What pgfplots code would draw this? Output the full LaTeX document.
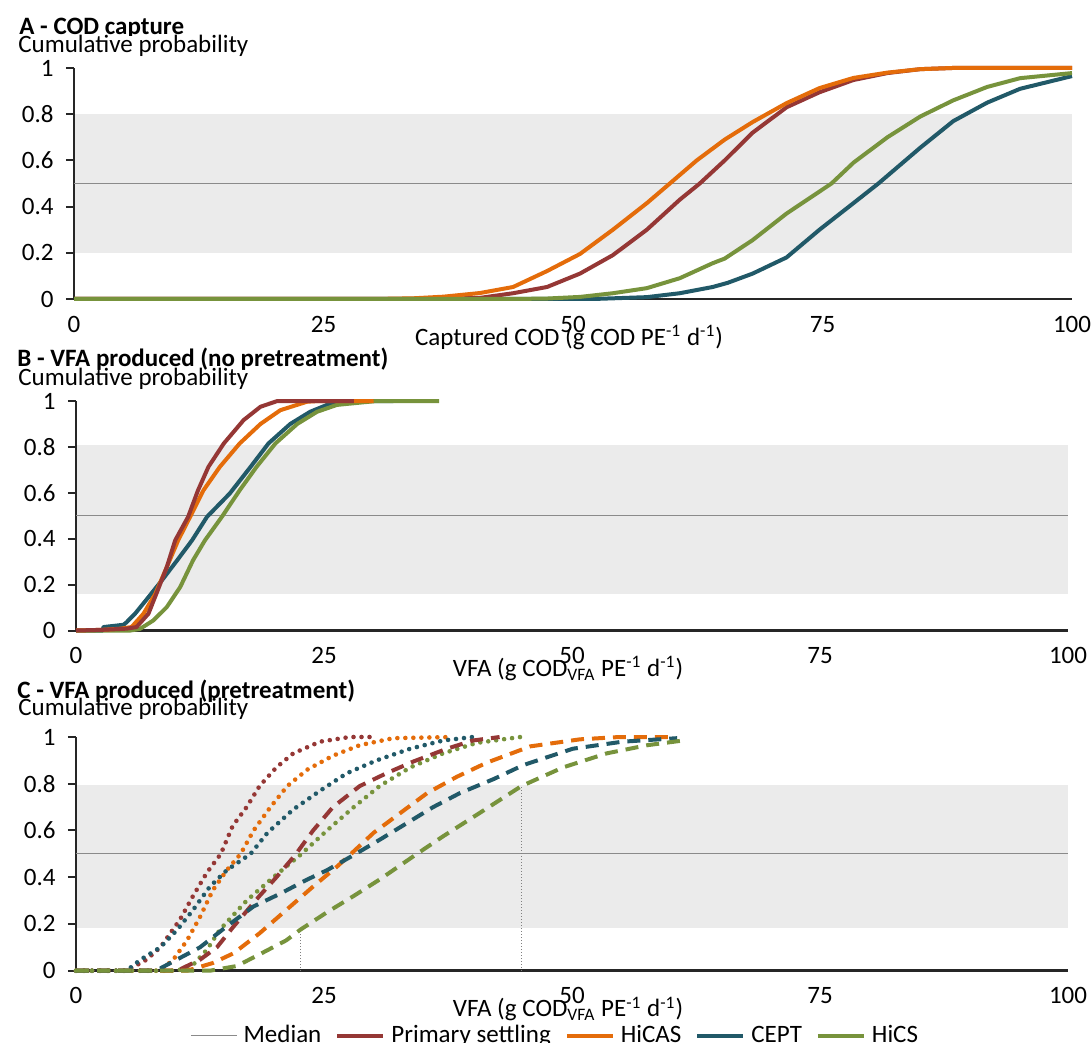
\documentclass[border=0pt]{standalone}
\usepackage{fontspec}
\setmainfont{Carlito}
\usepackage{pgfplots}
\pgfplotsset{compat=1.18}
\definecolor{cPS}{HTML}{953735}
\definecolor{cHA}{HTML}{E46C0A}
\definecolor{cCE}{HTML}{215968}
\definecolor{cHS}{HTML}{77933C}
\definecolor{band}{HTML}{EBEBEB}
\definecolor{axc}{HTML}{262626}
\definecolor{med}{HTML}{8A8A8A}
\newcommand{\fs}{\fontsize{12.5}{15}\selectfont}
\pgfplotsset{
  panel/.style={
    set layers,
    scale only axis, anchor=south west,
    xmin=0, xmax=100, ymin=0, ymax=1,
    axis x line*=bottom, axis y line*=left,
    axis line style={line width=1.3pt, draw=axc, -},
    xtick={0,25,50,75,100}, xticklabels={0,25,50,75,100},
    ytick={0,0.2,0.4,0.6,0.8,1}, yticklabels={0,0.2,0.4,0.6,0.8,1},
    x tick style={draw=none},
    y tick style={line width=1pt, draw=axc},
    tick align=outside, major tick length=4pt,
    clip=false,
    font=\fs,
    xticklabel style={anchor=base, inner sep=0pt, yshift=-12.5pt},
    yticklabel style={anchor=east, inner sep=0pt, xshift=-6pt},
    xlabel style={at={(axis description cs:0.5,0)}, anchor=base, yshift=-23pt, xshift=-2pt, inner sep=0pt},
  },
  bandst/.style={draw=none, fill=band, on layer=axis background, forget plot},
  medst/.style={draw=med, line width=0.5pt, forget plot},
  cv/.style={line width=2pt, line join=round, forget plot},
  dt/.style={cv, line width=2.3pt, line cap=round, dash pattern=on 0pt off 4pt},
  ds/.style={cv, dash pattern=on 6.5pt off 4pt},
}
\begin{document}
\begin{tikzpicture}
% ---------------- Panel A
\begin{axis}[panel, at={(37pt,-149.5pt)}, width=499pt, height=115.5pt,
  xlabel={Captured COD (g COD PE\textsuperscript{-1} d\textsuperscript{-1})}]
\addplot[bandst] coordinates {(0,0.2) (100,0.2) (100,0.8) (0,0.8)} -- cycle;
\addplot[medst] coordinates {(0,0.5) (100,0.5)};
\addplot[cv, cCE] coordinates {(0,0) (52,0) (57.4,0.008) (60.7,0.025) (64,0.052) (65.5,0.07) (68,0.11) (71.4,0.18) (74.7,0.30) (78.1,0.415) (80.6,0.50) (84.8,0.655) (88.1,0.77) (91.5,0.85) (94.8,0.91) (100,0.965)};
\addplot[cv, cPS] coordinates {(0,0) (35,0) (38,0.002) (40.7,0.005) (44,0.025) (47.4,0.052) (50.7,0.11) (54,0.19) (57.4,0.30) (60.7,0.43) (62.7,0.50) (65.2,0.60) (68,0.72) (71.4,0.83) (74.7,0.895) (78.1,0.948) (81.5,0.978) (84.8,0.995) (88,1) (100,1)};
\addplot[cv, cHA] coordinates {(0,0) (30,0) (34,0.003) (37,0.01) (40.7,0.026) (44,0.052) (47.4,0.121) (50.7,0.195) (54,0.30) (57.4,0.415) (59.7,0.50) (62.4,0.60) (65.2,0.69) (68,0.766) (71.4,0.848) (74.7,0.913) (78.1,0.957) (81.5,0.98) (84.8,0.995) (88,1) (100,1)};
\addplot[cv, cHS] coordinates {(0,0) (44,0) (47.4,0.002) (50.7,0.009) (54,0.025) (57.4,0.047) (60.7,0.09) (64,0.155) (65.2,0.175) (68,0.255) (71.4,0.37) (75.9,0.50) (78.1,0.59) (81.5,0.70) (84.8,0.79) (88.1,0.86) (91.5,0.918) (94.8,0.956) (100,0.978)};
\end{axis}
% ---------------- Panel B
\begin{axis}[panel, at={(38pt,-315.25pt)}, width=496pt, height=114.75pt,
  xlabel={VFA (g COD\textsubscript{VFA} PE\textsuperscript{-1} d\textsuperscript{-1})}]
\addplot[bandst] coordinates {(0,0.157) (100,0.157) (100,0.81) (0,0.81)} -- cycle;
\addplot[medst] coordinates {(0,0.5) (100,0.5)};
\addplot[cv, cCE] coordinates {(0,0) (2.7,0) (2.76,0.015) (4.8,0.025) (5.1,0.036) (5.95,0.073) (7.3,0.145) (8.65,0.218) (10.2,0.306) (11.7,0.393) (13.2,0.495) (15.5,0.597) (17.6,0.713) (19.4,0.815) (21.6,0.90) (23.6,0.953) (25.3,0.983) (27.6,1) (32,1)};
\addplot[cv, cHS] coordinates {(0,0) (5.5,0) (6.45,0.007) (7.8,0.044) (9.15,0.102) (10.5,0.189) (11.8,0.306) (13.0,0.393) (14.7,0.495) (16.5,0.611) (18.2,0.713) (20.1,0.815) (22.3,0.90) (24.3,0.953) (26.3,0.983) (30.3,1) (36.6,1)};
\addplot[cv, cHA] coordinates {(0,0) (2.7,0.003) (4.5,0.008) (5.6,0.015) (6.8,0.073) (8.0,0.16) (9.15,0.276) (10.3,0.393) (11.5,0.495) (12.85,0.611) (14.5,0.713) (16.5,0.815) (18.6,0.90) (20.6,0.96) (23.3,0.997) (24.5,1) (30,1)};
\addplot[cv, cPS] coordinates {(0,0) (2.7,0.003) (5.1,0.008) (6.1,0.015) (7.3,0.073) (8.1,0.16) (9.15,0.276) (10.0,0.393) (11.3,0.495) (12.3,0.611) (13.35,0.713) (14.9,0.815) (16.9,0.917) (18.6,0.975) (20.3,1) (28,1)};
\end{axis}
% ---------------- Panel C
\begin{axis}[panel, at={(38pt,-485.35pt)}, width=496pt, height=116.85pt,
  xlabel={VFA (g COD\textsubscript{VFA} PE\textsuperscript{-1} d\textsuperscript{-1})},
  legend style={at={(0.484,-0.278)}, anchor=center, draw=none, fill=none, inner sep=0pt,
    font=\fs, legend columns=-1,
    /tikz/every even column/.append style={column sep=5pt},
    /tikz/every odd column/.append style={column sep=1pt}},
  legend image code/.code={\draw[#1] (0pt,0pt) -- (23pt,0pt);}]
\addplot[bandst] coordinates {(0,0.184) (100,0.184) (100,0.795) (0,0.795)} -- cycle;
\addplot[medst] coordinates {(0,0.5) (100,0.5)};
\addplot[draw=gray, line width=0.5pt, densely dotted, forget plot] coordinates {(22.6,0) (22.6,0.175)};
\addplot[draw=gray, line width=0.5pt, densely dotted, forget plot] coordinates {(44.9,0) (44.9,0.79)};
\addplot[dt, cPS] coordinates {(0,0) (5.1,0) (7.1,0.047) (8.5,0.10) (10.5,0.22) (11.8,0.32) (13.2,0.42) (14.6,0.50) (15.8,0.62) (17.2,0.70) (18.5,0.79) (20.2,0.87) (21.9,0.93) (24.6,0.98) (27.6,1) (29.6,1)};
\addplot[dt, cHA] coordinates {(0,0) (8.5,0) (9.8,0.047) (11.2,0.13) (12.5,0.23) (13.8,0.345) (15.2,0.43) (16.6,0.50) (17.9,0.60) (19.6,0.70) (21.3,0.79) (23.3,0.86) (25.9,0.92) (28.6,0.965) (32,0.995) (38,1)};
\addplot[dt, cCE] coordinates {(0,0) (5.1,0) (6.5,0.047) (8.5,0.10) (10.2,0.175) (11.8,0.26) (13.5,0.36) (15.2,0.43) (17.6,0.50) (19.3,0.59) (21.9,0.69) (24.6,0.77) (27.3,0.845) (30.3,0.90) (33.7,0.95) (37,0.985) (40,1)};
\addplot[dt, cHS] coordinates {(0,0) (10.2,0) (11.8,0.025) (13.2,0.09) (14.5,0.175) (17.2,0.30) (19.9,0.40) (22.6,0.495) (25.3,0.60) (28.0,0.70) (30.6,0.79) (33.7,0.87) (37,0.93) (40.4,0.975) (44.8,1)};
\addplot[ds, cPS] coordinates {(0,0) (10.2,0) (12.5,0.047) (14.2,0.10) (15.9,0.19) (18.5,0.32) (20.2,0.40) (22.1,0.495) (23.9,0.60) (25.9,0.70) (28.6,0.79) (31.3,0.845) (34,0.895) (37.4,0.95) (40,0.985) (42.7,1)};
\addplot[ds, cHA] coordinates {(0,0) (11.2,0) (13.8,0.033) (15.9,0.075) (18.5,0.16) (21.2,0.26) (23.9,0.36) (26.3,0.445) (27.6,0.495) (30,0.59) (32.7,0.675) (35.4,0.76) (38.4,0.83) (41.4,0.89) (45.8,0.96) (50.8,0.99) (54.8,1) (60.2,1)};
\addplot[ds, cCE] coordinates {(0,0) (7.5,0) (8.5,0.01) (10.5,0.055) (12.5,0.10) (15.2,0.19) (17.9,0.275) (20.6,0.33) (23.3,0.39) (25.3,0.43) (28,0.495) (30.6,0.56) (33.3,0.63) (36,0.70) (38.7,0.76) (42.1,0.82) (45.1,0.88) (50.1,0.95) (55.1,0.98) (60.6,0.995)};
\addplot[ds, cHS] coordinates {(0,0) (13.5,0) (16.2,0.02) (18.5,0.07) (21.2,0.13) (22.6,0.175) (25.3,0.25) (28,0.32) (30.6,0.39) (34.2,0.495) (37,0.575) (40.4,0.667) (44.9,0.79) (49.1,0.87) (53.5,0.93) (57.6,0.965) (61.2,0.985)};
\addlegendimage{draw=med, line width=0.7pt}
\addlegendentry{Median}
\addlegendimage{draw=cPS, line width=2pt}
\addlegendentry{Primary settling}
\addlegendimage{draw=cHA, line width=2pt}
\addlegendentry{HiCAS}
\addlegendimage{draw=cCE, line width=2pt}
\addlegendentry{CEPT}
\addlegendimage{draw=cHS, line width=2pt}
\addlegendentry{HiCS}
\end{axis}
% ---------------- titles and y labels
\node[anchor=base west, inner sep=0pt, font=\fs\bfseries] at (9.5pt,-17.5pt) {A - COD capture};
\node[anchor=base west, inner sep=0pt, fill=white, font=\fs] at (9pt,-26.5pt) {Cumulative probability};
\node[anchor=base west, inner sep=0pt, font=\fs\bfseries] at (8.5pt,-183pt) {B - VFA produced (no pretreatment)};
\node[anchor=base west, inner sep=0pt, font=\fs] at (9pt,-192.5pt) {Cumulative probability};
\node[anchor=base west, inner sep=0pt, font=\fs\bfseries] at (8.5pt,-349pt) {C - VFA produced (pretreatment)};
\node[anchor=base west, inner sep=0pt, font=\fs] at (9pt,-357.5pt) {Cumulative probability};
\pgfresetboundingbox
\path[use as bounding box] (0pt,0pt) rectangle (546pt,-521.5pt);
\end{tikzpicture}
\end{document}
